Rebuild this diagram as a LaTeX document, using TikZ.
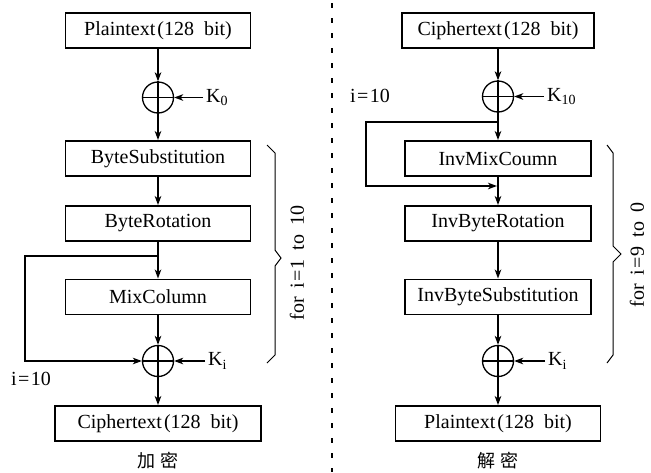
\documentclass[tikz,border=0pt]{standalone}
\usepackage{fontspec}
\setmainfont{Liberation Serif}
\newfontfamily\cjk{Noto Sans CJK SC}
\usetikzlibrary{arrows.meta}

\begin{document}
\begin{tikzpicture}[x=1pt,y=-1pt,
  txt/.style={font=\fontsize{20}{23}\selectfont},
  box/.style={txt, draw, line width=1.9pt, minimum height=35pt, inner sep=0pt},
  xor/.style={draw, circle, line width=1.3pt, minimum size=31pt, inner sep=0pt},
  arr/.style={line width=1.6pt, -{Stealth[length=9pt,width=6.5pt,inset=2.5pt]}},
  key/.style={txt, inner sep=3pt, anchor=west},
  brace/.style={line width=1pt, line join=miter},
  captxt/.style={font=\cjk\fontsize{18}{21}\selectfont},
  divider/.style={line width=2pt, dash pattern=on 5pt off 10pt}
]
\useasboundingbox (0,0) rectangle (651,472);

% separator between the two halves
\coordinate (dtop) at (332,3);
\coordinate (dbot) at (332,472);
\draw[divider] (dtop) -- (dbot);

% ---------------- encryption ----------------
\node[box, minimum width=185pt] (ep)  at (158,30.5) {Plaintext\hspace{2pt}(128\hspace{0.5em}bit)};
\node[xor] (ex1) at (158,97.5) {};
\draw[line width=1.3pt] (ex1.north) -- (ex1.south) (ex1.west) -- (ex1.east);
\node[key] (ek0) at (203,97.5) {K\textsubscript{0}};
\node[box, minimum width=185pt] (esub) at (158,158.5) {ByteSubstitution};
\node[box, minimum width=185pt] (erot) at (158,223.5) {ByteRotation};
\node[box, minimum width=185pt] (emix) at (158,297) {MixColumn};
\node[xor] (ex2) at (158,361) {};
\draw[line width=1.3pt] (ex2.north) -- (ex2.south) (ex2.west) -- (ex2.east);
\node[key] (eki) at (205,361) {K\textsubscript{i}};
\node[box, minimum width=206pt] (ec) at (158,423.5) {Ciphertext\hspace{2pt}(128\hspace{0.5em}bit)};
\node[txt] (ei10) at (31,379) {i\hspace{1.5pt}=\hspace{1.5pt}10};
\node[captxt] (ecap) at (158,461) {加\hspace{5pt}密};

\draw[arr] (ep.south) -- (ex1.north);
\draw[arr] (ek0.west) -- (ex1.east);
\draw[arr] (ex1.south) -- (esub.north);
\draw[arr] (esub.south) -- (erot.north);
\draw[arr] (erot.south) -- (emix.north);
\draw[arr] (emix.south) -- (ex2.north);
\draw[arr] (eki.west) -- (ex2.east);
\draw[arr] (ex2.south) -- (ec.north);

% last round skips MixColumn
\coordinate (efb) at (158,256);
\coordinate (efbc) at (25,256);
\draw[arr] (efb) -- (efbc) |- (ex2.west);

% round brace
\coordinate (eb1) at (267,145);
\draw[brace] (eb1) -- ++(8,8) -- (275,250) -- (281,258) -- (275,266) -- (275,355) -- (267,363);
\node[txt, rotate=90] (efor) at (297,263) {for\hspace{0.45em}i\hspace{1pt}=\hspace{1pt}1\hspace{0.45em}to\hspace{0.45em}10};

% ---------------- decryption ----------------
\node[box, minimum width=192pt] (dc)  at (498,30.5) {Ciphertext\hspace{2pt}(128\hspace{0.5em}bit)};
\node[xor] (dx1) at (498,96.5) {};
\draw[line width=1.3pt] (dx1.north) -- (dx1.south) (dx1.west) -- (dx1.east);
\node[key] (dk10) at (544,96.5) {K\textsubscript{10}};
\node[txt] (di10) at (370,96) {i\hspace{1.5pt}=\hspace{1.5pt}10};
\node[box, minimum width=186pt] (dmix) at (498,158.5) {InvMixCoumn};
\node[box, minimum width=186pt] (drot) at (498,223.5) {InvByteRotation};
\node[box, minimum width=186pt] (dsub) at (498,297) {InvByteSubstitution};
\node[xor] (dx2) at (498,361) {};
\draw[line width=1.3pt] (dx2.north) -- (dx2.south) (dx2.west) -- (dx2.east);
\node[key] (dki) at (545,361) {K\textsubscript{i}};
\node[box, minimum width=205pt] (dp) at (498,423.5) {Plaintext\hspace{2pt}(128\hspace{0.5em}bit)};
\node[captxt] (dcap) at (498,461) {解\hspace{5pt}密};

\draw[arr] (dc.south) -- (dx1.north);
\draw[arr] (dk10.west) -- (dx1.east);
\draw[arr] (dx1.south) -- (dmix.north);
\draw[arr] (dmix.south) -- (drot.north);
\draw[arr] (drot.south) -- (dsub.north);
\draw[arr] (dsub.south) -- (dx2.north);
\draw[arr] (dki.west) -- (dx2.east);
\draw[arr] (dx2.south) -- (dp.north);

% first round skips InvMixColumn
\coordinate (dfb) at (498,122);
\coordinate (dfbc) at (366,122);
\coordinate (dfbe) at (497,186);
\draw[arr] (dfb) -- (dfbc) |- (dfbe);

% round brace
\coordinate (db1) at (607,145);
\draw[brace] (db1) -- ++(6,8) -- (613,246) -- (621,254) -- (613,262) -- (613,355) -- (607,363);
\node[txt, rotate=90] (dfor) at (637,255) {for\hspace{0.45em}i\hspace{1pt}=\hspace{1pt}9\hspace{0.45em}to\hspace{0.45em}0};
\end{tikzpicture}
\end{document}
